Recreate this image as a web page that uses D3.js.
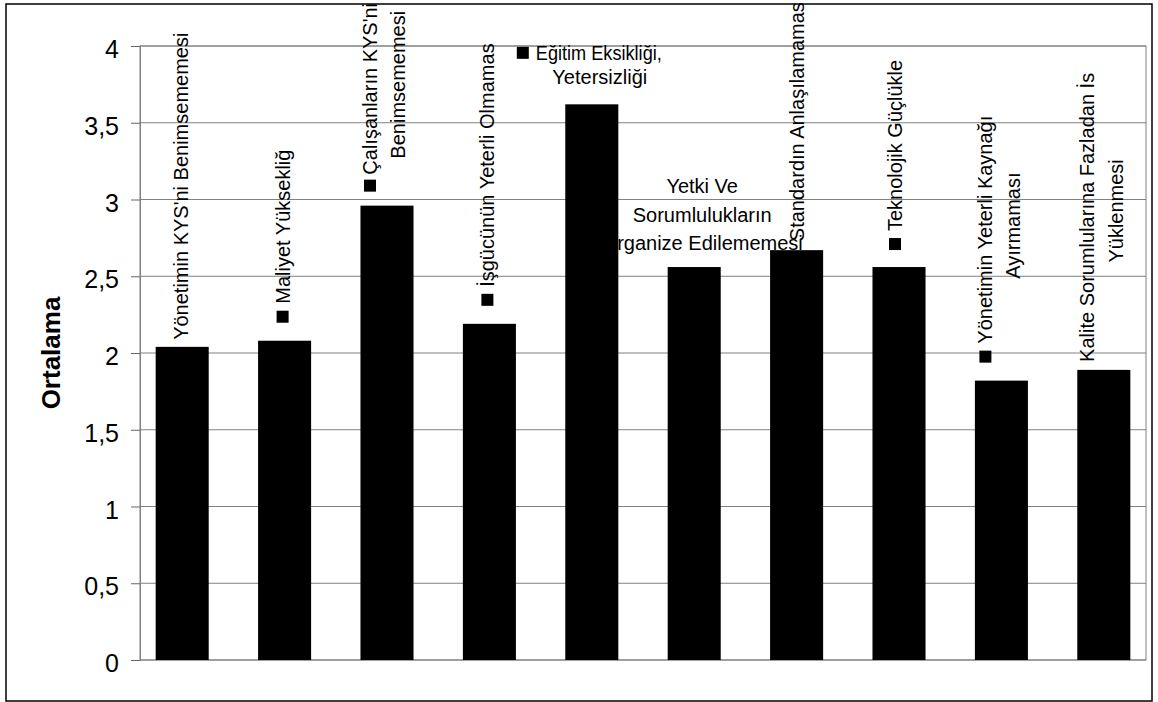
<!DOCTYPE html>
<html>
<head>
<meta charset="utf-8">
<script src="https://cdn.jsdelivr.net/npm/d3@7"></script>
<style>
  html, body { margin: 0; padding: 0; background: #fff; }
  svg { display: block; font-family: "Liberation Sans", Arial, sans-serif; }
</style>
</head>
<body>
<svg id="chart" width="1158" height="702"></svg>
<script>
// ---- data ----
const categories = [
  "Yönetimin KYS'ni Benimsememesi",
  "Maliyet Yüksekliği",
  "Çalışanların KYS'ni Benimsememesi",
  "İşgücünün Yeterli Olmaması",
  "Eğitim Eksikliği, Yetersizliği",
  "Yetki Ve Sorumlulukların Organize Edilememesi",
  "Standardın Anlaşılamaması",
  "Teknolojik Güçlükler",
  "Yönetimin Yeterli Kaynağı Ayırmaması",
  "Kalite Sorumlularına Fazladan İş Yüklenmesi"
];
const values = [2.04, 2.08, 2.96, 2.19, 3.62, 2.56, 2.67, 2.56, 1.82, 1.89];
const yTickValues = [0, 0.5, 1, 1.5, 2, 2.5, 3, 3.5, 4];
const yTickLabels = ["0", "0,5", "1", "1,5", "2", "2,5", "3", "3,5", "4"];
const yAxisTitle = "Ortalama";
// data label text as displayed (wrapped / clipped as in the picture)
const labelLines = [
  ["Yönetimin KYS'ni Benimsememesi"],
  ["Maliyet Yüksekliğ"],
  ["Çalışanların KYS'ni", "Benimsememesi"],
  ["İşgücünün Yeterli Olmamas"],
  ["Eğitim Eksikliği,", "Yetersizliği"],
  ["Yetki Ve", "Sorumlulukların", "Organize Edilememesi"],
  ["Standardın Anlaşılamamas"],
  ["Teknolojik Güçlükle"],
  ["Yönetimin Yeterli Kaynağı", "Ayırmaması"],
  ["Kalite Sorumlularına Fazladan İs", "Yüklenmesi"]
];
const showKey = [false, true, true, true, true, false, false, true, true, false];

// ---- layout (label placement relative to bar top / band centre) ----
const labelLayout = [
  {rot: true,  lines: [{dx: -1, dy: -7, a: "start"}]},
  {rot: true,  lines: [{dx: -2, dy: -18, a: "start"}]},
  {rot: true,  lines: [{dx: -17, dy: -14, a: "start", gap: 5}, {dx: 11, dy: -47, a: "start"}]},
  {rot: true,  lines: [{dx: -2, dy: -18, a: "start"}]},
  {rot: false, lines: [{dx: -75, dy: -44.5, a: "start", len: 126}, {dx: 8, dy: -20, a: "middle"}]},
  {rot: false, lines: [{dx: 8, dy: -74, a: "middle"}, {dx: 8, dy: -45.5, a: "middle"}, {dx: 8, dy: -17, a: "middle"}]},
  {rot: true,  lines: [{dx: 0, dy: -9, a: "start"}]},
  {rot: true,  lines: [{dx: -4, dy: -17, a: "start"}]},
  {rot: true,  lines: [{dx: -16, dy: -18, a: "start"}, {dx: 12, dy: -155, a: "middle"}]},
  {rot: true,  lines: [{dx: -17, dy: -8, a: "start"}, {dx: 12, dy: -159, a: "middle"}]}
];

const plot = {left: 140, right: 1146, top: 46, bottom: 660};
const svg = d3.select("#chart");

// outer frame
svg.append("rect").attr("x", 6).attr("y", 4).attr("width", 1146).attr("height", 697)
  .attr("fill", "#fff").attr("stroke", "#000").attr("stroke-width", 1.5);

const x = d3.scaleBand().domain(categories).range([plot.left, plot.right])
  .paddingInner(0.482).paddingOuter(0.153);
const y = d3.scaleLinear().domain([0, 4]).range([plot.bottom, plot.top]);

// gridlines
svg.append("g").selectAll("line").data(yTickValues.filter(d => d > 0)).join("line")
  .attr("x1", plot.left).attr("x2", plot.right)
  .attr("y1", d => y(d)).attr("y2", d => y(d))
  .attr("stroke", "#808080").attr("stroke-width", 1);

// plot border
svg.append("rect").attr("x", plot.left).attr("y", plot.top)
  .attr("width", plot.right - plot.left).attr("height", plot.bottom - plot.top)
  .attr("fill", "none").attr("stroke", "#808080").attr("stroke-width", 1);

// y axis
const yAxis = d3.axisLeft(y).tickValues(yTickValues).tickSize(9).tickPadding(12)
  .tickFormat((d, i) => yTickLabels[i]);
const gy = svg.append("g").attr("transform", `translate(${plot.left},0)`).call(yAxis);
gy.select(".domain").attr("stroke", "#808080");
gy.selectAll(".tick line").attr("stroke", "#666");
gy.selectAll(".tick text").attr("font-size", 25).attr("fill", "#000")
  .attr("font-family", "'Liberation Sans', Arial, sans-serif").attr("dy", "0.46em");

// y title
svg.append("text").attr("transform", `translate(60,${(plot.top + plot.bottom) / 2}) rotate(-90)`)
  .attr("text-anchor", "middle").attr("font-size", 26).attr("font-weight", "bold")
  .text(yAxisTitle);

// x axis baseline
svg.append("line").attr("x1", plot.left).attr("x2", plot.right)
  .attr("y1", y(0)).attr("y2", y(0)).attr("stroke", "#808080");

// bars
svg.append("g").selectAll("rect").data(values).join("rect")
  .attr("x", (d, i) => x(categories[i]))
  .attr("y", d => y(d))
  .attr("width", x.bandwidth())
  .attr("height", d => y(0) - y(d))
  .attr("fill", "#000");

// data labels
const FS = 20, KEY = 12, GAP = 7;
const lg = svg.append("g").attr("font-size", FS).attr("fill", "#000");
values.forEach((v, i) => {
  const cx = x(categories[i]) + x.bandwidth() / 2;
  const top = y(v);
  const L = labelLayout[i];
  labelLines[i].forEach((txt, j) => {
    const s = L.lines[j];
    const px = cx + s.dx, py = top + s.dy;
    const hasKey = showKey[i] && j === 0;
    const gap = s.gap != null ? s.gap : GAP;
    if (L.rot) {
      let start = py;
      if (hasKey) {
        lg.append("rect").attr("x", px - KEY / 2).attr("y", py - KEY)
          .attr("width", KEY).attr("height", KEY).attr("fill", "#000");
        start = py - KEY - gap;
      }
      lg.append("text").attr("transform", `translate(${px},${start}) rotate(-90)`)
        .attr("text-anchor", s.a).attr("dy", "0.35em").text(txt);
    } else {
      let sx = px;
      if (hasKey) {
        lg.append("rect").attr("x", px).attr("y", py - KEY - 1)
          .attr("width", KEY).attr("height", KEY).attr("fill", "#000");
        sx = px + KEY + gap;
      }
      const t = lg.append("text").attr("x", sx).attr("y", py)
        .attr("text-anchor", s.a).text(txt);
      if (s.len) t.attr("textLength", s.len).attr("lengthAdjust", "spacingAndGlyphs");
    }
  });
});
</script>
</body>
</html>
